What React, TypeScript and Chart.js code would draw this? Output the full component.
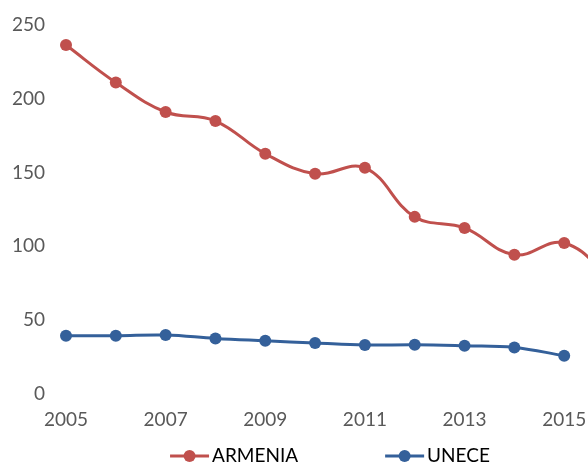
import React, { useEffect, useRef } from "react";
import { Chart, registerables } from "chart.js";

Chart.register(...registerables);

const years = ["2005", "2006", "2007", "2008", "2009", "2010", "2011", "2012", "2013", "2014", "2015", "2016"];
const armenia = [236.4, 211.0, 191.0, 184.9, 162.7, 149.1, 153.2, 119.9, 112.4, 94.2, 102.2, 76];
const unece = [39.3, 39.3, 39.8, 37.5, 35.9, 34.4, 33.0, 33.2, 32.5, 31.4, 25.7, null];
const yTicks = [0, 50, 100, 150, 200, 250];
const seriesNames = ["ARMENIA", "UNECE"];

const RED = "#C0504D";
const BLUE = "#34609A";
const FONT = "Lato, 'Open Sans', sans-serif";

const legendPlugin = {
  id: "excelLegend",
  afterDraw(chart: any) {
    const ctx = chart.ctx;
    const ds = chart.data.datasets;
    ctx.save();
    ctx.font = `19px ${FONT}`;
    ctx.textBaseline = "middle";
    ctx.fillStyle = "#000";
    const marker = 39;
    const gap = 3;
    const spacing = 87;
    const widths = ds.map((d: any) => marker + gap + ctx.measureText(d.label).width);
    const total = widths.reduce((a: number, b: number) => a + b, 0) + spacing * (ds.length - 1);
    let x = chart.width / 2 - total / 2 - 2;
    const y = 456;
    ds.forEach((d: any, i: number) => {
      ctx.strokeStyle = d.borderColor;
      ctx.lineWidth = 3;
      ctx.beginPath();
      ctx.moveTo(x, y);
      ctx.lineTo(x + marker, y);
      ctx.stroke();
      ctx.fillStyle = d.borderColor;
      ctx.beginPath();
      ctx.arc(x + marker / 2, y, 6, 0, Math.PI * 2);
      ctx.fill();
      ctx.fillStyle = "#000";
      ctx.fillText(d.label, x + marker + gap, y);
      x += widths[i] + spacing;
    });
    ctx.restore();
  },
};

export default function App() {
  const ref = useRef<HTMLCanvasElement>(null);
  useEffect(() => {
    const chart = new Chart(ref.current!, {
      type: "line",
      data: {
        labels: years,
        datasets: [
          {
            label: seriesNames[0],
            data: armenia,
            borderColor: RED,
            backgroundColor: RED,
            borderWidth: 3,
            pointRadius: 6,
            pointBorderWidth: 0,
            tension: 0.4,
          },
          {
            label: seriesNames[1],
            data: unece,
            borderColor: BLUE,
            backgroundColor: BLUE,
            borderWidth: 3,
            pointRadius: 6,
            pointBorderWidth: 0,
            tension: 0.4,
          },
        ],
      },
      options: {
        animation: false,
        responsive: true,
        maintainAspectRatio: false,
        layout: { padding: { left: 0, right: 50, top: 25, bottom: 19.5 } },
        scales: {
          x: {
            offset: false,
            grid: { display: false, drawTicks: false },
            border: { display: false },
            ticks: {
              autoSkip: false,
              maxRotation: 0,
              color: "#595959",
              font: { family: FONT, size: 19 },
              padding: 14.5,
              callback: function (v: any, i: number) {
                const l = years[i];
                return Number(l) % 2 === 1 && i < years.length - 1 ? l : "";
              },
            },
          },
          y: {
            min: yTicks[0],
            max: yTicks[yTicks.length - 1],
            afterBuildTicks: (s: any) => {
              s.ticks = yTicks.map((v) => ({ value: v }));
            },
            afterFit: (s: any) => {
              s.width = 66;
            },
            grid: { display: false, drawTicks: true, tickLength: 21 },
            border: { display: false },
            ticks: {
              color: "#595959",
              font: { family: FONT, size: 19 },
              padding: 0,
            },
          },
        },
        plugins: {
          legend: { display: false },
          tooltip: { enabled: false },
        },
      },
      plugins: [legendPlugin],
    });
    return () => chart.destroy();
  }, []);
  return (
    <div style={{ position: "fixed", left: 0, top: 0, width: 588, height: 465, overflow: "hidden", background: "#fff" }}>
      <div style={{ position: "relative", width: 664, height: 465 }}>
        <canvas ref={ref} />
      </div>
    </div>
  );
}
